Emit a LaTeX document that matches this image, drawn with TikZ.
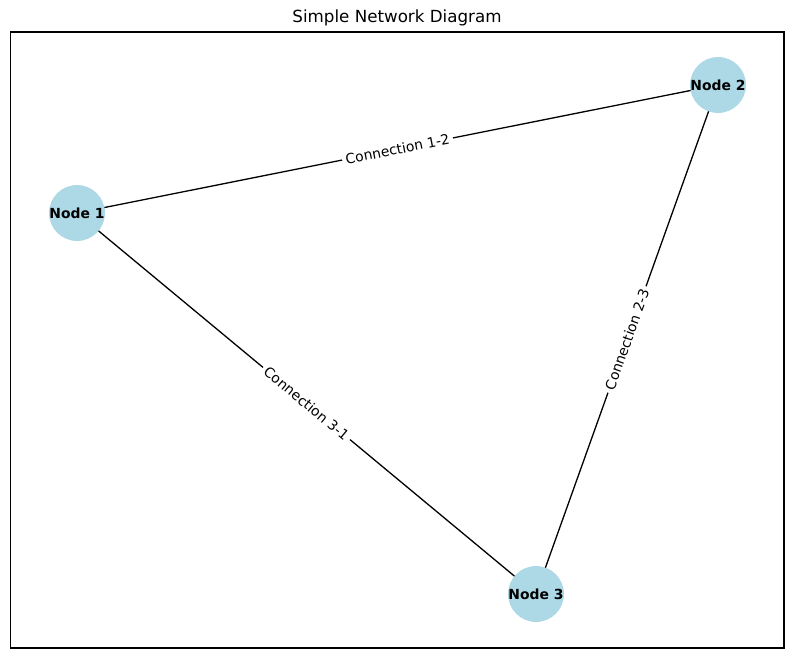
\documentclass[tikz,border=0pt]{standalone}
\usepackage{fontspec}
\setmainfont{DejaVu Sans}
\begin{document}
\begin{tikzpicture}[x=1pt,y=-1pt,
  netnode/.style={circle,fill=lightblue,minimum size=55pt,inner sep=0pt,
    font=\fontsize{13.9}{16}\selectfont\bfseries},
  edgelab/.style={midway,sloped,fill=white,inner sep=3.5pt,rounded corners=3pt,
    font=\fontsize{13.9}{16}\selectfont},
  edgeline/.style={line width=1.3pt}]
\definecolor{lightblue}{HTML}{ADD8E6}
\useasboundingbox (0,0) rectangle (794,658);
\draw[line width=1.1pt] (10.5,32) rectangle (784,648);
\node[font=\fontsize{16.7}{19}\selectfont] (title) at (397,18) {Simple Network Diagram};
\coordinate (c1) at (77,213);
\coordinate (c2) at (718,85);
\coordinate (c3) at (536,594);
\draw[edgeline] (c1) -- node[edgelab] (l12) {Connection 1-2} (c2);
\draw[edgeline] (c2) -- node[edgelab] (l23) {Connection 2-3} (c3);
\draw[edgeline] (c1) -- node[edgelab] (l31) {Connection 3-1} (c3);
\node[netnode] (n1) at (c1) {Node 1};
\node[netnode] (n2) at (c2) {Node 2};
\node[netnode] (n3) at (c3) {Node 3};
\end{tikzpicture}
\end{document}
